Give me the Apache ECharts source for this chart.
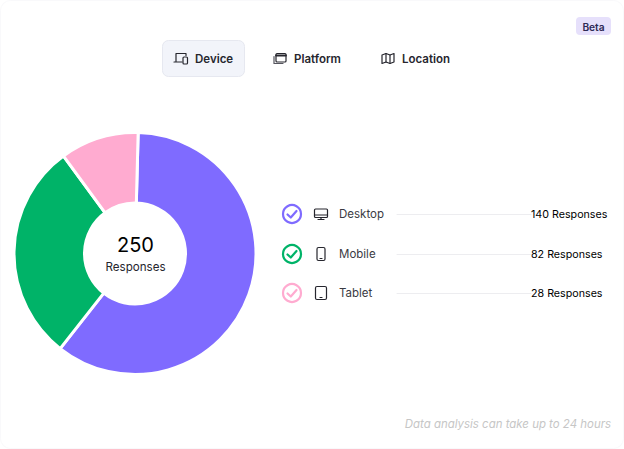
<!DOCTYPE html>
<html>
<head>
<meta charset="utf-8">
<title>Responses</title>
<script src="https://cdn.jsdelivr.net/npm/echarts@6/dist/echarts.min.js"></script>
<style>
html, body { margin: 0; padding: 0; background: #fff; }
#chart { width: 624px; height: 449px; }
</style>
</head>
<body>
<div id="chart"></div>
<script>
// data
const categories = ["Desktop", "Mobile", "Tablet"];
const responses = [140, 82, 28];
// slice shares as drawn, they are not quite the same as the printed counts
const sliceShares = [60.2, 29.3, 10.5];
const totalLabel = "250";
const tabs = ["Device", "Platform", "Location"];
const colors = ["#7f6bff", "#00b368", "#ffabd0"];

const FONT = "Inter, sans-serif";
const chart = echarts.init(document.getElementById("chart"), null, { renderer: "svg" });

// ----- small drawing helpers -----

function label(x, y, text, size, color, weight, align) {
    return {
        type: "text",
        x: x,
        y: y,
        silent: true,
        style: {
            text: text,
            fontFamily: FONT,
            fontSize: size,
            fontWeight: weight || 400,
            fill: color,
            align: align || "left",
            verticalAlign: "middle"
        }
    };
}

function box(x, y, w, h, r, fill, stroke, lineWidth) {
    return {
        type: "rect",
        silent: true,
        shape: { x: x, y: y, width: w, height: h, r: r },
        style: { fill: fill || "none", stroke: stroke || "none", lineWidth: lineWidth || 1.2 }
    };
}

function stroke(points, color, lineWidth) {
    return {
        type: "polyline",
        silent: true,
        shape: { points: points },
        style: { fill: "none", stroke: color, lineWidth: lineWidth || 1.2, lineCap: "round", lineJoin: "round" }
    };
}

// ----- tab icons -----

const DARK = "#26262e";

function deviceIcon(cx, cy) {
    return [
        stroke([[cx - 5, cy + 3], [cx - 5, cy - 5], [cx + 5, cy - 5], [cx + 5, cy - 3]], DARK),
        stroke([[cx - 7, cy + 3.5], [cx + 1, cy + 3.5]], DARK),
        box(cx + 2, cy - 1.5, 4.5, 7, 1, "#f2f4fa", DARK)
    ];
}

function platformIcon(cx, cy) {
    return [
        stroke([[cx - 6, cy - 2], [cx - 6, cy + 5], [cx + 3, cy + 5]], "#55555e"),
        box(cx - 4, cy - 5, 10, 8.5, 1, "#fff", DARK),
        stroke([[cx - 4, cy - 3], [cx + 6, cy - 3]], DARK, 1.8)
    ];
}

function locationIcon(cx, cy) {
    return [
        stroke([[cx - 6, cy - 3.5], [cx - 2, cy - 5], [cx + 2, cy - 3.5], [cx + 6, cy - 5], [cx + 6, cy + 3.5],
            [cx + 2, cy + 5], [cx - 2, cy + 3.5], [cx - 6, cy + 5], [cx - 6, cy - 3.5]], DARK),
        stroke([[cx - 2, cy - 5], [cx - 2, cy + 3.5]], DARK),
        stroke([[cx + 2, cy - 3.5], [cx + 2, cy + 5]], DARK)
    ];
}

// ----- legend icons -----

function desktopIcon(cx, cy) {
    return [
        box(cx - 6.5, cy - 5, 13, 8.5, 1, "none", DARK),
        stroke([[cx - 6.5, cy + 1], [cx + 6.5, cy + 1]], DARK),
        stroke([[cx - 3, cy + 5.5], [cx + 3, cy + 5.5]], DARK),
        stroke([[cx, cy + 3.5], [cx, cy + 5.5]], DARK)
    ];
}

function mobileIcon(cx, cy) {
    return [
        box(cx - 4, cy - 6.5, 8, 13, 1.5, "none", DARK),
        stroke([[cx - 1, cy + 4.5], [cx + 1, cy + 4.5]], DARK)
    ];
}

function tabletIcon(cx, cy) {
    return [
        box(cx - 5.5, cy - 6.5, 11, 13, 1.5, "none", DARK),
        stroke([[cx - 1, cy + 4.5], [cx + 1, cy + 4.5]], DARK)
    ];
}

function checkIcon(cx, cy, color) {
    return [
        {
            type: "circle",
            silent: true,
            shape: { cx: cx, cy: cy, r: 9 },
            style: { fill: "none", stroke: color, lineWidth: 2.2 }
        },
        stroke([[cx - 4.5, cy + 0.5], [cx - 1.2, cy + 3.5], [cx + 4.5, cy - 3]], color, 2.2)
    ];
}

// ----- everything around the donut -----

const tabX = [196, 295, 403];
const tabIcons = [deviceIcon, platformIcon, locationIcon];
const rowY = [214, 254, 293];
const rowIcons = [desktopIcon, mobileIcon, tabletIcon];

let extras = [
    box(0.5, 0.5, 623, 448, 10, "none", "#f9f9fb", 1),
    box(576, 17, 35, 18, 4, "#e6e0fb"),
    label(593.5, 26.5, "Beta", 10.2, "#2e2a55", 600, "center"),
    box(162.5, 40.5, 82, 36, 6, "#f2f4fa", "#e6e8f0", 1),
    label(135.5, 245, totalLabel, 20, "#000", 400, "center"),
    label(135.5, 267, "Responses", 11.6, "#26262e", 400, "center"),
    label(611, 424, "Data analysis can take up to 24 hours", 11.45, "#c6c6c6", 400, "right")
];
extras[extras.length - 1].style.fontStyle = "italic";

tabs.forEach((name, i) => {
    extras = extras.concat(tabIcons[i](tabX[i] - 15, 58.5));
    extras.push(label(tabX[i] - 1, 58.5, name, 11.5, "#26262e", 600));
});

categories.forEach((name, i) => {
    const y = rowY[i];
    extras = extras.concat(checkIcon(292, y, colors[i]));
    extras = extras.concat(rowIcons[i](321, y));
    extras.push(label(339, y - 0.5, name, 11.5, "#3a3a42"));
    extras.push(stroke([[397, y + 0.5], [531, y + 0.5]], "#ededf0", 1));
    extras.push(label(531, y, responses[i] + " Responses", 10.7, "#000"));
});

// ----- chart -----

chart.setOption({
    animation: false,
    series: [{
        type: "pie",
        center: [135, 253.5],
        radius: [50.5, 121],
        startAngle: 88.5,
        clockwise: true,
        silent: true,
        label: { show: false },
        labelLine: { show: false },
        itemStyle: { borderColor: "#fff", borderWidth: 3 },
        data: categories.map((name, i) => ({
            name: name,
            value: sliceShares[i],
            itemStyle: { color: colors[i] }
        }))
    }],
    graphic: { elements: extras }
});
</script>
</body>
</html>
